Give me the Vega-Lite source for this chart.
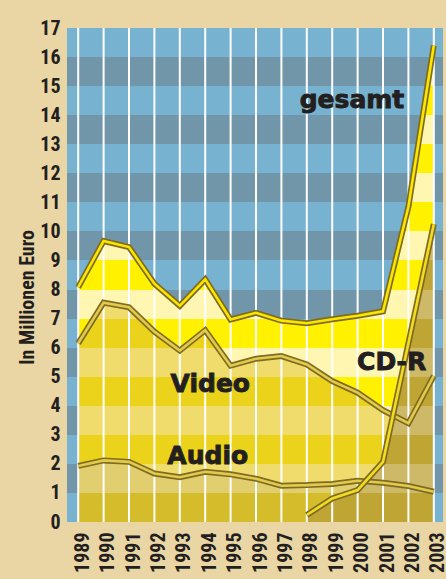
{
  "$schema": "https://vega.github.io/schema/vega-lite/v6.json",
  "width": 376,
  "height": 494,
  "autosize": "none",
  "padding": {"left": 67, "top": 28, "right": 3, "bottom": 57},
  "background": "#ead6a4",
  "config": {
    "view": {"stroke": null},
    "axisX": {
      "format": "d",
      "labelAngle": 270,
      "labelAlign": "right",
      "labelBaseline": "middle",
      "labelPadding": 10,
      "labelOffset": 4,
      "labelFont": "Liberation Sans Narrow, Roboto Condensed, Liberation Sans, sans-serif",
      "labelFontWeight": "bold",
      "labelFontSize": 20,
      "labelColor": "#231f20",
      "ticks": false,
      "domain": false,
      "grid": false
    },
    "axisY": {
      "format": "d",
      "labelPadding": 7,
      "labelFont": "Liberation Sans Narrow, Roboto Condensed, Liberation Sans, sans-serif",
      "labelFontWeight": "bold",
      "labelFontSize": 20,
      "labelColor": "#231f20",
      "ticks": false,
      "domain": false,
      "grid": false,
      "titleFont": "Liberation Sans Narrow, Roboto Condensed, Liberation Sans, sans-serif",
      "titleFontWeight": "bold",
      "titleFontSize": 20,
      "titleColor": "#231f20",
      "titleAngle": 270,
      "titleX": -34,
      "titleY": 269,
      "titleAlign": "center",
      "titleBaseline": "alphabetic"
    }
  },
  "data": {
    "values": [
      {"year": 1989, "audio": 1.93, "video": 6.15, "cdr": null, "gesamt": 8.08},
      {"year": 1990, "audio": 2.12, "video": 7.55, "cdr": null, "gesamt": 9.67},
      {"year": 1991, "audio": 2.07, "video": 7.39, "cdr": null, "gesamt": 9.46},
      {"year": 1992, "audio": 1.67, "video": 6.55, "cdr": null, "gesamt": 8.2},
      {"year": 1993, "audio": 1.54, "video": 5.9, "cdr": null, "gesamt": 7.44},
      {"year": 1994, "audio": 1.73, "video": 6.6, "cdr": null, "gesamt": 8.35},
      {"year": 1995, "audio": 1.64, "video": 5.38, "cdr": null, "gesamt": 6.97},
      {"year": 1996, "audio": 1.49, "video": 5.62, "cdr": null, "gesamt": 7.2},
      {"year": 1997, "audio": 1.25, "video": 5.71, "cdr": null, "gesamt": 6.93},
      {"year": 1998, "audio": 1.27, "video": 5.42, "cdr": 0.24, "gesamt": 6.84},
      {"year": 1999, "audio": 1.31, "video": 4.85, "cdr": 0.81, "gesamt": 6.98},
      {"year": 2000, "audio": 1.42, "video": 4.45, "cdr": 1.1, "gesamt": 7.1},
      {"year": 2001, "audio": 1.35, "video": 3.85, "cdr": 2.07, "gesamt": 7.25},
      {"year": 2002, "audio": 1.24, "video": 3.4, "cdr": 6.15, "gesamt": 10.85},
      {"year": 2003, "audio": 1.04, "video": 5.03, "cdr": 10.25, "gesamt": 16.4}
    ]
  },
  "layer": [
    {
      "data": {"values": [{}]},
      "mark": {
        "type": "rect",
        "fill": {
          "gradient": "linear", "x1": 0, "y1": 0, "x2": 0, "y2": 1,
          "stops": [
            {"offset": 0, "color": "#77b3d1"}, {"offset": 0.058824, "color": "#77b3d1"},
            {"offset": 0.058824, "color": "#7196a9"}, {"offset": 0.117647, "color": "#7196a9"},
            {"offset": 0.117647, "color": "#77b3d1"}, {"offset": 0.176471, "color": "#77b3d1"},
            {"offset": 0.176471, "color": "#7196a9"}, {"offset": 0.235294, "color": "#7196a9"},
            {"offset": 0.235294, "color": "#77b3d1"}, {"offset": 0.294118, "color": "#77b3d1"},
            {"offset": 0.294118, "color": "#7196a9"}, {"offset": 0.352941, "color": "#7196a9"},
            {"offset": 0.352941, "color": "#77b3d1"}, {"offset": 0.411765, "color": "#77b3d1"},
            {"offset": 0.411765, "color": "#7196a9"}, {"offset": 0.470588, "color": "#7196a9"},
            {"offset": 0.470588, "color": "#77b3d1"}, {"offset": 0.529412, "color": "#77b3d1"},
            {"offset": 0.529412, "color": "#7196a9"}, {"offset": 0.588235, "color": "#7196a9"},
            {"offset": 0.588235, "color": "#77b3d1"}, {"offset": 0.647059, "color": "#77b3d1"},
            {"offset": 0.647059, "color": "#7196a9"}, {"offset": 0.705882, "color": "#7196a9"},
            {"offset": 0.705882, "color": "#77b3d1"}, {"offset": 0.764706, "color": "#77b3d1"},
            {"offset": 0.764706, "color": "#7196a9"}, {"offset": 0.823529, "color": "#7196a9"},
            {"offset": 0.823529, "color": "#77b3d1"}, {"offset": 0.882353, "color": "#77b3d1"},
            {"offset": 0.882353, "color": "#7196a9"}, {"offset": 0.941176, "color": "#7196a9"},
            {"offset": 0.941176, "color": "#77b3d1"}, {"offset": 1, "color": "#77b3d1"}
          ]
        }
      },
      "encoding": {
        "x": {"datum": 1988.559, "type": "quantitative", "scale": {"domain": [1988.559, 2003.362], "nice": false, "zero": false}, "title": null,
              "axis": {"values": [1989,1990,1991,1992,1993,1994,1995,1996,1997,1998,1999,2000,2001,2002,2003], "tickCount": 30, "format": "d", "labelOverlap": false, "labelFlush": false}},
        "x2": {"datum": 2003.362},
        "y": {"datum": 0, "type": "quantitative", "scale": {"domain": [0, 17], "nice": false}, "title": "In Millionen Euro",
              "axis": {"values": [0,1,2,3,4,5,6,7,8,9,10,11,12,13,14,15,16,17], "tickCount": 30, "format": "d", "labelOverlap": false, "labelFlush": false}},
        "y2": {"datum": 17}
      }
    },
    {
      "mark": {
        "type": "area",
        "fill": {
          "gradient": "linear", "x1": 0, "y1": 0, "x2": 0, "y2": 1,
          "stops": [
            {"offset": 0, "color": "#fff100"}, {"offset": 0.02439, "color": "#fff100"},
            {"offset": 0.02439, "color": "#fff6b2"}, {"offset": 0.085366, "color": "#fff6b2"},
            {"offset": 0.085366, "color": "#fff100"}, {"offset": 0.146341, "color": "#fff100"},
            {"offset": 0.146341, "color": "#fff6b2"}, {"offset": 0.207317, "color": "#fff6b2"},
            {"offset": 0.207317, "color": "#fff100"}, {"offset": 0.268293, "color": "#fff100"},
            {"offset": 0.268293, "color": "#fff6b2"}, {"offset": 0.329268, "color": "#fff6b2"},
            {"offset": 0.329268, "color": "#fff100"}, {"offset": 0.390244, "color": "#fff100"},
            {"offset": 0.390244, "color": "#fff6b2"}, {"offset": 0.45122, "color": "#fff6b2"},
            {"offset": 0.45122, "color": "#fff100"}, {"offset": 0.512195, "color": "#fff100"},
            {"offset": 0.512195, "color": "#fff6b2"}, {"offset": 0.573171, "color": "#fff6b2"},
            {"offset": 0.573171, "color": "#fff100"}, {"offset": 0.634146, "color": "#fff100"},
            {"offset": 0.634146, "color": "#fff6b2"}, {"offset": 0.695122, "color": "#fff6b2"},
            {"offset": 0.695122, "color": "#fff100"}, {"offset": 0.756098, "color": "#fff100"},
            {"offset": 0.756098, "color": "#fff6b2"}, {"offset": 0.817073, "color": "#fff6b2"},
            {"offset": 0.817073, "color": "#fff100"}, {"offset": 0.878049, "color": "#fff100"},
            {"offset": 0.878049, "color": "#fff6b2"}, {"offset": 0.939024, "color": "#fff6b2"},
            {"offset": 0.939024, "color": "#fff100"}, {"offset": 1, "color": "#fff100"}
          ]
        }
      },
      "encoding": {
        "x": {"field": "year", "type": "quantitative", "title": null,
              "axis": {"values": [1989,1990,1991,1992,1993,1994,1995,1996,1997,1998,1999,2000,2001,2002,2003], "tickCount": 30, "format": "d", "labelOverlap": false, "labelFlush": false}},
        "y": {"field": "gesamt", "type": "quantitative", "title": "In Millionen Euro",
              "axis": {"values": [0,1,2,3,4,5,6,7,8,9,10,11,12,13,14,15,16,17], "tickCount": 30, "format": "d", "labelOverlap": false, "labelFlush": false}}
      }
    },
    {
      "mark": {
        "type": "area",
        "fill": {
          "gradient": "linear", "x1": 0, "y1": 0, "x2": 0, "y2": 1,
          "stops": [
            {"offset": 0, "color": "#f0dc6c"}, {"offset": 0.072848, "color": "#f0dc6c"},
            {"offset": 0.072848, "color": "#ebd31b"}, {"offset": 0.205298, "color": "#ebd31b"},
            {"offset": 0.205298, "color": "#f0dc6c"}, {"offset": 0.337748, "color": "#f0dc6c"},
            {"offset": 0.337748, "color": "#ebd31b"}, {"offset": 0.470199, "color": "#ebd31b"},
            {"offset": 0.470199, "color": "#f0dc6c"}, {"offset": 0.602649, "color": "#f0dc6c"},
            {"offset": 0.602649, "color": "#ebd31b"}, {"offset": 0.735099, "color": "#ebd31b"},
            {"offset": 0.735099, "color": "#f0dc6c"}, {"offset": 0.86755, "color": "#f0dc6c"},
            {"offset": 0.86755, "color": "#ebd31b"}, {"offset": 1, "color": "#ebd31b"}
          ]
        }
      },
      "encoding": {
        "x": {"field": "year", "type": "quantitative", "title": null},
        "y": {"field": "video", "type": "quantitative", "title": "In Millionen Euro"}
      }
    },
    {
      "mark": {
        "type": "area",
        "fill": {
          "gradient": "linear", "x1": 0, "y1": 0, "x2": 0, "y2": 1,
          "stops": [
            {"offset": 0, "color": "#d5bc2b"}, {"offset": 0.056604, "color": "#d5bc2b"},
            {"offset": 0.056604, "color": "#e1ce6e"}, {"offset": 0.528302, "color": "#e1ce6e"},
            {"offset": 0.528302, "color": "#d5bc2b"}, {"offset": 1, "color": "#d5bc2b"}
          ]
        }
      },
      "encoding": {
        "x": {"field": "year", "type": "quantitative", "title": null},
        "y": {"field": "audio", "type": "quantitative", "title": "In Millionen Euro"}
      }
    },
    {
      "mark": {
        "type": "area",
        "fill": {
          "gradient": "linear", "x1": 0, "y1": 0, "x2": 0, "y2": 1,
          "stops": [
            {"offset": 0, "color": "#bea534"}, {"offset": 0.02439, "color": "#bea534"},
            {"offset": 0.02439, "color": "#cdb968"}, {"offset": 0.121951, "color": "#cdb968"},
            {"offset": 0.121951, "color": "#bea534"}, {"offset": 0.219512, "color": "#bea534"},
            {"offset": 0.219512, "color": "#cdb968"}, {"offset": 0.317073, "color": "#cdb968"},
            {"offset": 0.317073, "color": "#bea534"}, {"offset": 0.414634, "color": "#bea534"},
            {"offset": 0.414634, "color": "#cdb968"}, {"offset": 0.512195, "color": "#cdb968"},
            {"offset": 0.512195, "color": "#bea534"}, {"offset": 0.609756, "color": "#bea534"},
            {"offset": 0.609756, "color": "#cdb968"}, {"offset": 0.707317, "color": "#cdb968"},
            {"offset": 0.707317, "color": "#bea534"}, {"offset": 0.804878, "color": "#bea534"},
            {"offset": 0.804878, "color": "#cdb968"}, {"offset": 0.902439, "color": "#cdb968"},
            {"offset": 0.902439, "color": "#bea534"}, {"offset": 1, "color": "#bea534"}
          ]
        }
      },
      "encoding": {
        "x": {"field": "year", "type": "quantitative", "title": null},
        "y": {"field": "cdr", "type": "quantitative", "title": "In Millionen Euro"}
      }
    },
    {
      "mark": {"type": "rule", "color": "#ffffff", "strokeWidth": 2},
      "encoding": {
        "x": {"field": "year", "type": "quantitative", "title": null},
        "y": {"datum": 0, "type": "quantitative", "title": "In Millionen Euro"},
        "y2": {"datum": 17}
      }
    },
    {
      "mark": {"type": "line", "color": "#7f6c22", "strokeWidth": 6, "strokeJoin": "miter", "strokeCap": "butt"},
      "encoding": {
        "x": {"field": "year", "type": "quantitative", "title": null},
        "y": {"field": "audio", "type": "quantitative", "title": "In Millionen Euro"}
      }
    },
    {
      "mark": {"type": "line", "color": "#e2ca4c", "strokeWidth": 2.6, "strokeJoin": "miter", "strokeCap": "butt"},
      "encoding": {
        "x": {"field": "year", "type": "quantitative", "title": null},
        "y": {"field": "audio", "type": "quantitative", "title": "In Millionen Euro"}
      }
    },
    {
      "mark": {"type": "line", "color": "#7f6c22", "strokeWidth": 6, "strokeJoin": "miter", "strokeCap": "butt"},
      "encoding": {
        "x": {"field": "year", "type": "quantitative", "title": null},
        "y": {"field": "video", "type": "quantitative", "title": "In Millionen Euro"}
      }
    },
    {
      "mark": {"type": "line", "color": "#e2ca4c", "strokeWidth": 2.6, "strokeJoin": "miter", "strokeCap": "butt"},
      "encoding": {
        "x": {"field": "year", "type": "quantitative", "title": null},
        "y": {"field": "video", "type": "quantitative", "title": "In Millionen Euro"}
      }
    },
    {
      "mark": {"type": "line", "color": "#7f6c22", "strokeWidth": 6, "strokeJoin": "miter", "strokeCap": "butt"},
      "encoding": {
        "x": {"field": "year", "type": "quantitative", "title": null},
        "y": {"field": "cdr", "type": "quantitative", "title": "In Millionen Euro"}
      }
    },
    {
      "mark": {"type": "line", "color": "#f2dc22", "strokeWidth": 2.6, "strokeJoin": "miter", "strokeCap": "butt"},
      "encoding": {
        "x": {"field": "year", "type": "quantitative", "title": null},
        "y": {"field": "cdr", "type": "quantitative", "title": "In Millionen Euro"}
      }
    },
    {
      "mark": {"type": "line", "color": "#7f6c22", "strokeWidth": 6, "strokeJoin": "miter", "strokeCap": "butt"},
      "encoding": {
        "x": {"field": "year", "type": "quantitative", "title": null},
        "y": {"field": "gesamt", "type": "quantitative", "title": "In Millionen Euro"}
      }
    },
    {
      "mark": {"type": "line", "color": "#fbe600", "strokeWidth": 2.6, "strokeJoin": "miter", "strokeCap": "butt"},
      "encoding": {
        "x": {"field": "year", "type": "quantitative", "title": null},
        "y": {"field": "gesamt", "type": "quantitative", "title": "In Millionen Euro"}
      }
    },
    {
      "data": {"values": [{"label": "gesamt"}]},
      "mark": {"type": "text", "font": "DejaVu Sans", "fontWeight": "bold", "fontSize": 25, "fill": "#231f20", "stroke": "#231f20", "strokeWidth": 0.9, "align": "center", "baseline": "alphabetic"},
      "encoding": {
        "x": {"datum": 1999.78, "type": "quantitative", "title": null},
        "y": {"datum": 14.24, "type": "quantitative", "title": "In Millionen Euro"},
        "text": {"field": "label"}
      }
    },
    {
      "data": {"values": [{"label": "CD-R"}]},
      "mark": {"type": "text", "font": "DejaVu Sans", "fontWeight": "bold", "fontSize": 25, "fill": "#231f20", "stroke": "#231f20", "strokeWidth": 0.9, "align": "center", "baseline": "alphabetic"},
      "encoding": {
        "x": {"datum": 2001.34, "type": "quantitative", "title": null},
        "y": {"datum": 5.23, "type": "quantitative", "title": "In Millionen Euro"},
        "text": {"field": "label"}
      }
    },
    {
      "data": {"values": [{"label": "Video"}]},
      "mark": {"type": "text", "font": "DejaVu Sans", "fontWeight": "bold", "fontSize": 25, "fill": "#231f20", "stroke": "#231f20", "strokeWidth": 0.9, "align": "center", "baseline": "alphabetic"},
      "encoding": {
        "x": {"datum": 1994.2, "type": "quantitative", "title": null},
        "y": {"datum": 4.46, "type": "quantitative", "title": "In Millionen Euro"},
        "text": {"field": "label"}
      }
    },
    {
      "data": {"values": [{"label": "Audio"}]},
      "mark": {"type": "text", "font": "DejaVu Sans", "fontWeight": "bold", "fontSize": 25, "fill": "#231f20", "stroke": "#231f20", "strokeWidth": 0.9, "align": "center", "baseline": "alphabetic"},
      "encoding": {
        "x": {"datum": 1994.1, "type": "quantitative", "title": null},
        "y": {"datum": 2.0, "type": "quantitative", "title": "In Millionen Euro"},
        "text": {"field": "label"}
      }
    }
  ]
}
